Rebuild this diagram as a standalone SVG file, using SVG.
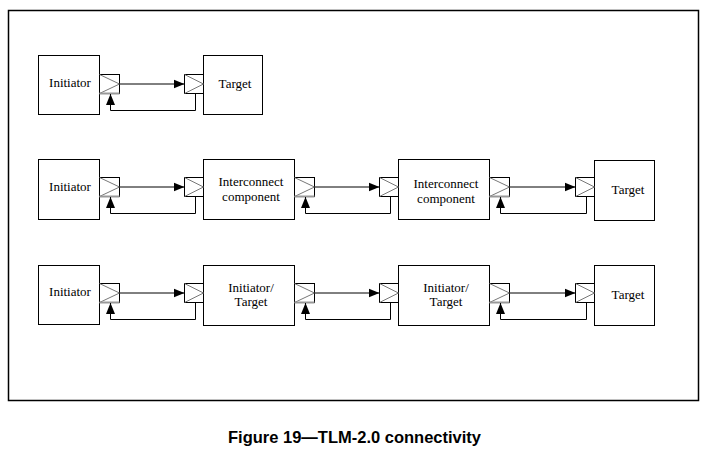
<svg xmlns="http://www.w3.org/2000/svg" width="708" height="454" viewBox="0 0 708 454">
<style>
.box{fill:#fff;stroke:#000;stroke-width:1}
.sock{fill:#fff;stroke:#000;stroke-width:1}
.tri{fill:none;stroke:#777;stroke-width:1}
.ib{stroke:#999;stroke-width:2}
.lbl{font-family:"Liberation Serif","Times New Roman",serif;font-size:13px;fill:#000;text-anchor:middle}
.con{fill:none;stroke:#000;stroke-width:1}
.cap{font-family:"Liberation Sans",Arial,sans-serif;font-size:16.5px;font-weight:bold;text-anchor:middle;fill:#000}
</style>
<defs>
<marker id="ah" markerWidth="11" markerHeight="10" refX="11" refY="5" orient="auto" markerUnits="userSpaceOnUse">
<path d="M0,0.5 L11,5 L0,9.5 Z" fill="#000"/>
</marker>
<g id="isock"><rect class="sock" x="0" y="0" width="20" height="19"/><path class="tri" d="M0,0 L20,9.5 L0,19"/><line class="ib" x1="0" y1="19" x2="20" y2="19"/></g>
<g id="tsock"><rect class="sock" x="0" y="0" width="19" height="19"/><path class="tri" d="M0,0 L19,9.5 L0,19"/></g>
</defs>
<rect x="8.5" y="10.5" width="690" height="390" fill="none" stroke="#000" stroke-width="1.5"/>

<!-- Row 1 -->
<g id="r1-initiator"><rect class="box" x="38.5" y="55.5" width="61" height="59"/><text class="lbl" x="70" y="87">Initiator</text><use href="#isock" x="99.5" y="74.5"/></g>
<g id="r1-target"><rect class="box" x="203.5" y="55.5" width="59" height="59"/><text class="lbl" x="235" y="88">Target</text><use href="#tsock" x="184.5" y="74.5"/></g>

<!-- Row 2 -->
<g id="r2-initiator"><rect class="box" x="38.5" y="159.5" width="61" height="60"/><text class="lbl" x="70" y="191">Initiator</text><use href="#isock" x="99.5" y="177.5"/></g>
<g id="r2-interconnect1"><rect class="box" x="203.5" y="159.5" width="91" height="60"/><text class="lbl" x="251" y="186">Interconnect</text><text class="lbl" x="251" y="201">component</text><use href="#tsock" x="184.5" y="177.5"/><use href="#isock" x="294.5" y="177.5"/></g>
<g id="r2-interconnect2"><rect class="box" x="398.5" y="159.5" width="91" height="60"/><text class="lbl" x="446" y="188">Interconnect</text><text class="lbl" x="446" y="203">component</text><use href="#tsock" x="379.5" y="177.5"/><use href="#isock" x="489.5" y="177.5"/></g>
<g id="r2-target"><rect class="box" x="594.5" y="160.5" width="60" height="60"/><text class="lbl" x="628" y="194">Target</text><use href="#tsock" x="575.5" y="177.5"/></g>

<!-- Row 3 -->
<g id="r3-initiator"><rect class="box" x="38.5" y="265.5" width="61" height="59"/><text class="lbl" x="70" y="296">Initiator</text><use href="#isock" x="99.5" y="283.5"/></g>
<g id="r3-inittarget1"><rect class="box" x="203.5" y="265.5" width="91" height="60"/><text class="lbl" x="251" y="292">Initiator/</text><text class="lbl" x="251" y="306">Target</text><use href="#tsock" x="184.5" y="283.5"/><use href="#isock" x="294.5" y="283.5"/></g>
<g id="r3-inittarget2"><rect class="box" x="398.5" y="265.5" width="91" height="60"/><text class="lbl" x="446" y="292">Initiator/</text><text class="lbl" x="446" y="306">Target</text><use href="#tsock" x="379.5" y="283.5"/><use href="#isock" x="489.5" y="283.5"/></g>
<g id="r3-target"><rect class="box" x="594.5" y="265.5" width="60" height="60"/><text class="lbl" x="628" y="299">Target</text><use href="#tsock" x="575.5" y="283.5"/></g>

<g id="connectors">
<line class="con" x1="119.5" y1="84" x2="184.5" y2="84" marker-end="url(#ah)"/>
<polyline class="con" points="195.5,93.5 195.5,110.5 110.5,110.5 110.5,94" marker-end="url(#ah)"/>

<line class="con" x1="119.5" y1="187" x2="184.5" y2="187" marker-end="url(#ah)"/>
<polyline class="con" points="195.5,196.5 195.5,213.5 110.5,213.5 110.5,197" marker-end="url(#ah)"/>
<line class="con" x1="314.5" y1="187" x2="379.5" y2="187" marker-end="url(#ah)"/>
<polyline class="con" points="390.5,196.5 390.5,213.5 305.5,213.5 305.5,197" marker-end="url(#ah)"/>
<line class="con" x1="509.5" y1="187" x2="575.5" y2="187" marker-end="url(#ah)"/>
<polyline class="con" points="586.5,196.5 586.5,213.5 500.5,213.5 500.5,197" marker-end="url(#ah)"/>

<line class="con" x1="119.5" y1="293" x2="184.5" y2="293" marker-end="url(#ah)"/>
<polyline class="con" points="195.5,302.5 195.5,319.5 110.5,319.5 110.5,303" marker-end="url(#ah)"/>
<line class="con" x1="314.5" y1="293" x2="379.5" y2="293" marker-end="url(#ah)"/>
<polyline class="con" points="390.5,302.5 390.5,319.5 305.5,319.5 305.5,303" marker-end="url(#ah)"/>
<line class="con" x1="509.5" y1="293" x2="575.5" y2="293" marker-end="url(#ah)"/>
<polyline class="con" points="586.5,302.5 586.5,319.5 500.5,319.5 500.5,303" marker-end="url(#ah)"/>
</g>

<text class="cap" x="354.5" y="443">Figure 19—TLM-2.0 connectivity</text>
</svg>
